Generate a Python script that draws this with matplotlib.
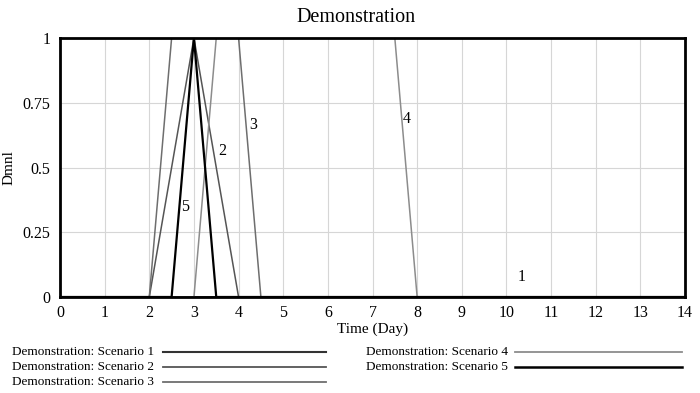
import matplotlib.pyplot as plt
from matplotlib.lines import Line2D

plt.rcParams['font.family'] = ['Liberation Serif', 'DejaVu Serif']

# Data (time in days, value in Dmnl)
s1_t = [0, 14]
s1_v = [0, 0]
s2_t = [0, 2, 3, 4, 14]
s2_v = [0, 0, 1, 0, 0]
s3_t = [0, 2, 2.5, 4, 4.5, 14]
s3_v = [0, 0, 1, 1, 0, 0]
s4_t = [0, 3, 3.5, 7.5, 8, 14]
s4_v = [0, 0, 1, 1, 0, 0]
s5_t = [0, 2.5, 3, 3.5, 14]
s5_v = [0, 0, 1, 0, 0]

names = ["Demonstration: Scenario 1", "Demonstration: Scenario 2",
         "Demonstration: Scenario 3", "Demonstration: Scenario 4",
         "Demonstration: Scenario 5"]
series = [(s1_t, s1_v), (s2_t, s2_v), (s3_t, s3_v), (s4_t, s4_v), (s5_t, s5_v)]
colors = ["#333333", "#555555", "#6e6e6e", "#8c8c8c", "#000000"]
widths = [1.3, 1.1, 1.1, 1.1, 1.6]

# line number label positions
lab_x = [10.33, 3.63, 4.32, 7.77, 2.80]
lab_y = [0.077, 0.564, 0.664, 0.687, 0.347]

x_ticks = list(range(0, 15))
y_ticks = [0, 0.25, 0.5, 0.75, 1]
y_tick_labels = ["0", "0.25", "0.5", "0.75", "1"]

fig = plt.figure(figsize=(7, 3.93), dpi=100)
ax = fig.add_axes([60 / 700, 1 - 297 / 393, 625 / 700, 259 / 393])

# lines sit under the frame, like the original
for (t, v), c, w in zip(series, colors, widths):
    ax.plot(t, v, color=c, lw=w, zorder=2)

for i, (x, y) in enumerate(zip(lab_x, lab_y)):
    ax.text(x, y, str(i + 1), fontsize=11.5, ha="center", va="center", zorder=4)

ax.set_xlim(0, 14)
ax.set_ylim(0, 1)
ax.set_xticks(x_ticks)
ax.set_yticks(y_ticks)
ax.set_yticklabels(y_tick_labels)
ax.tick_params(length=0, labelsize=11.5, pad=6)
ax.tick_params(axis="y", pad=7)
ax.grid(True, color="#d6d6d6", lw=0.8)
for sp in ax.spines.values():
    sp.set_linewidth(2)
    sp.set_zorder(3)
ax.set_xlabel("Time (Day)", fontsize=11, labelpad=1)
ax.set_ylabel("Dmnl", fontsize=11, labelpad=5)
fig.text(356 / 700, 1 - 18 / 393, "Demonstration", fontsize=14.5, ha="center", va="center")

# legend below the plot, two columns
leg_pos = [(12, 163, 326, 352), (12, 163, 326, 367), (12, 163, 326, 382),
           (366, 515, 682, 352), (366, 515, 682, 367)]
for name, c, w, (tx, x0, x1, y) in zip(names, colors, widths, leg_pos):
    fy = 1 - y / 393
    fig.text(tx / 700, fy, name, fontsize=9.5, ha="left", va="center")
    fig.add_artist(Line2D([x0 / 700, x1 / 700], [fy, fy], color=c, lw=w + 0.2,
                          transform=fig.transFigure))

fig.savefig("out.png", dpi=100)
